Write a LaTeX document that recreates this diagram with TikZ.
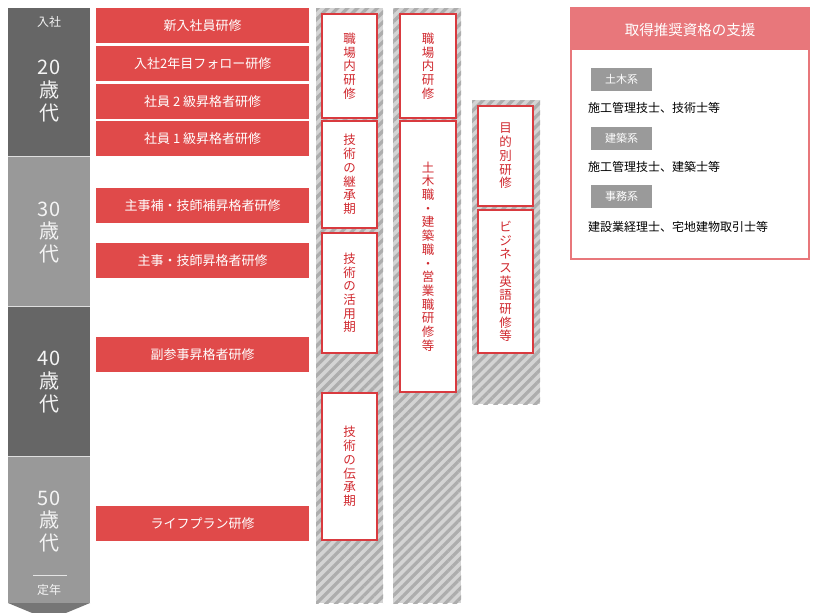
\documentclass[tikz,border=0pt]{standalone}
\usepackage{fontspec}
\setmainfont{Noto Sans CJK JP}
\usetikzlibrary{patterns.meta}
\definecolor{barred}{HTML}{E04A4A}
\definecolor{boxred}{HTML}{D93A3F}
\definecolor{txtred}{HTML}{D0282E}
\definecolor{darkg}{HTML}{666666}
\definecolor{lightg}{HTML}{999999}
\definecolor{chevg}{HTML}{767676}
\definecolor{hatchbg}{HTML}{D4D4D4}
\definecolor{hatchfg}{HTML}{ADADAD}
\definecolor{pinkred}{HTML}{E8777B}
\definecolor{tagg}{HTML}{9A9A9A}
\definecolor{agetxt}{HTML}{F4F4F4}
\tikzset{
  bar/.style={fill=barred, text=white, minimum width=213pt, minimum height=35pt,
    inner sep=0pt, anchor=north west, font=\fontsize{13}{14}\selectfont},
  vbox/.style={draw=boxred, line width=1.6pt, fill=white, text=txtred, align=center,
    inner sep=0pt, font=\fontsize{12.5}{13.7}\selectfont},
  hatchcol/.style={fill=hatchbg, postaction={pattern={Lines[angle=45,distance=7pt,line width=3.2pt]}, pattern color=hatchfg}},
  agetext/.style={text=agetxt, align=center, inner sep=0pt, font=\fontsize{20}{22.8}\selectfont},
  smallage/.style={text=agetxt, inner sep=0pt, font=\fontsize{12}{14}\selectfont},
  tag/.style={fill=tagg, text=white, minimum width=61pt, minimum height=23pt, inner sep=0pt,
    anchor=north west, font=\fontsize{11}{13}\selectfont},
  qual/.style={text=black, inner sep=0pt, anchor=west, font=\fontsize{12}{14}\selectfont}
}
\begin{document}
\begin{tikzpicture}[x=1pt,y=-1pt]
\useasboundingbox (0,0) rectangle (820,613);
\clip (0,0) rectangle (820,613);
\fill[white] (0,0) rectangle (820,613);

% ---- age column ----
\fill[darkg]  (8,8)   rectangle (90,156);
\fill[lightg] (8,156) rectangle (90,306);
\fill[darkg]  (8,306) rectangle (90,456);
\fill[lightg] (8,456) rectangle (90,603);
\fill[chevg]  (8,603) -- (90,603) -- (49,620) -- cycle;
\draw[line width=1pt, color=white!75!gray] (8,156) -- (90,156);
\draw[line width=1pt, color=white!75!gray] (8,306) -- (90,306);
\draw[line width=1pt, color=white!75!gray] (8,456) -- (90,456);
\draw[line width=0.8pt, color=white!80!gray] (33,575) -- (67,575);

\node[smallage] (nyusha) at (49,22) {入社};
\node[agetext] (age20) at (49,91) {20\\歳\\代};
\node[agetext] (age30) at (49,232.5) {30\\歳\\代};
\node[agetext] (age40) at (49,382) {40\\歳\\代};
\node[agetext] (age50) at (49,521.5) {50\\歳\\代};
\node[smallage] (teinen) at (49,590) {定年};

% ---- red training bars ----
\node[bar] (b1) at (96,8)   {新入社員研修};
\node[bar] (b2) at (96,46)  {入社2年目フォロー研修};
\node[bar] (b3) at (96,84)  {社員 2 級昇格者研修};
\node[bar] (b4) at (96,121) {社員 1 級昇格者研修};
\node[bar] (b5) at (96,188) {主事補・技師補昇格者研修};
\node[bar] (b6) at (96,243) {主事・技師昇格者研修};
\node[bar] (b7) at (96,337) {副参事昇格者研修};
\node[bar] (b8) at (96,506) {ライフプラン研修};

% ---- hatched columns ----
\path[hatchcol] (316,8) rectangle (383,603);
\path[hatchcol] (393,8) rectangle (461,603);
\path[hatchcol] (472,100) rectangle (540,404);

% column 1
\node[vbox, minimum width=55pt, minimum height=104pt] (c1a) at (349.5,66)    {職\\場\\内\\研\\修};
\node[vbox, minimum width=55pt, minimum height=107pt] (c1b) at (349.5,174.5) {技\\術\\の\\継\\承\\期};
\node[vbox, minimum width=55pt, minimum height=120pt] (c1c) at (349.5,293)   {技\\術\\の\\活\\用\\期};
\node[vbox, minimum width=55pt, minimum height=147pt] (c1d) at (349.5,466.5) {技\\術\\の\\伝\\承\\期};
% column 2
\node[vbox, minimum width=56pt, minimum height=104pt] (c2a) at (428,66)    {職\\場\\内\\研\\修};
\node[vbox, minimum width=56pt, minimum height=271pt] (c2b) at (428,256.5) {土\\木\\職\\・\\建\\築\\職\\・\\営\\業\\職\\研\\修\\等};
% column 3
\node[vbox, minimum width=55pt, minimum height=100pt] (c3a) at (505.5,156)   {目\\的\\別\\研\\修};
\node[vbox, minimum width=55pt, minimum height=143pt] (c3b) at (505.5,281.5) {ビ\\ジ\\ネ\\ス\\英\\語\\研\\修\\等};

% ---- qualification support box ----
\fill[pinkred] (571,8) rectangle (809,50);
\draw[pinkred, line width=1.8pt] (571,8) rectangle (809,259);
\node[text=white, inner sep=0pt, font=\fontsize{14.5}{16}\selectfont] (qhead) at (690,30) {取得推奨資格の支援};

\node[tag] (t1) at (591,68)  {土木系};
\node[qual] (q1) at (588,108) {施工管理技士、技術士等};
\node[tag] (t2) at (591,127) {建築系};
\node[qual] (q2) at (588,167) {施工管理技士、建築士等};
\node[tag] (t3) at (591,185) {事務系};
\node[qual] (q3) at (588,227) {建設業経理士、宅地建物取引士等};
\end{tikzpicture}
\end{document}
